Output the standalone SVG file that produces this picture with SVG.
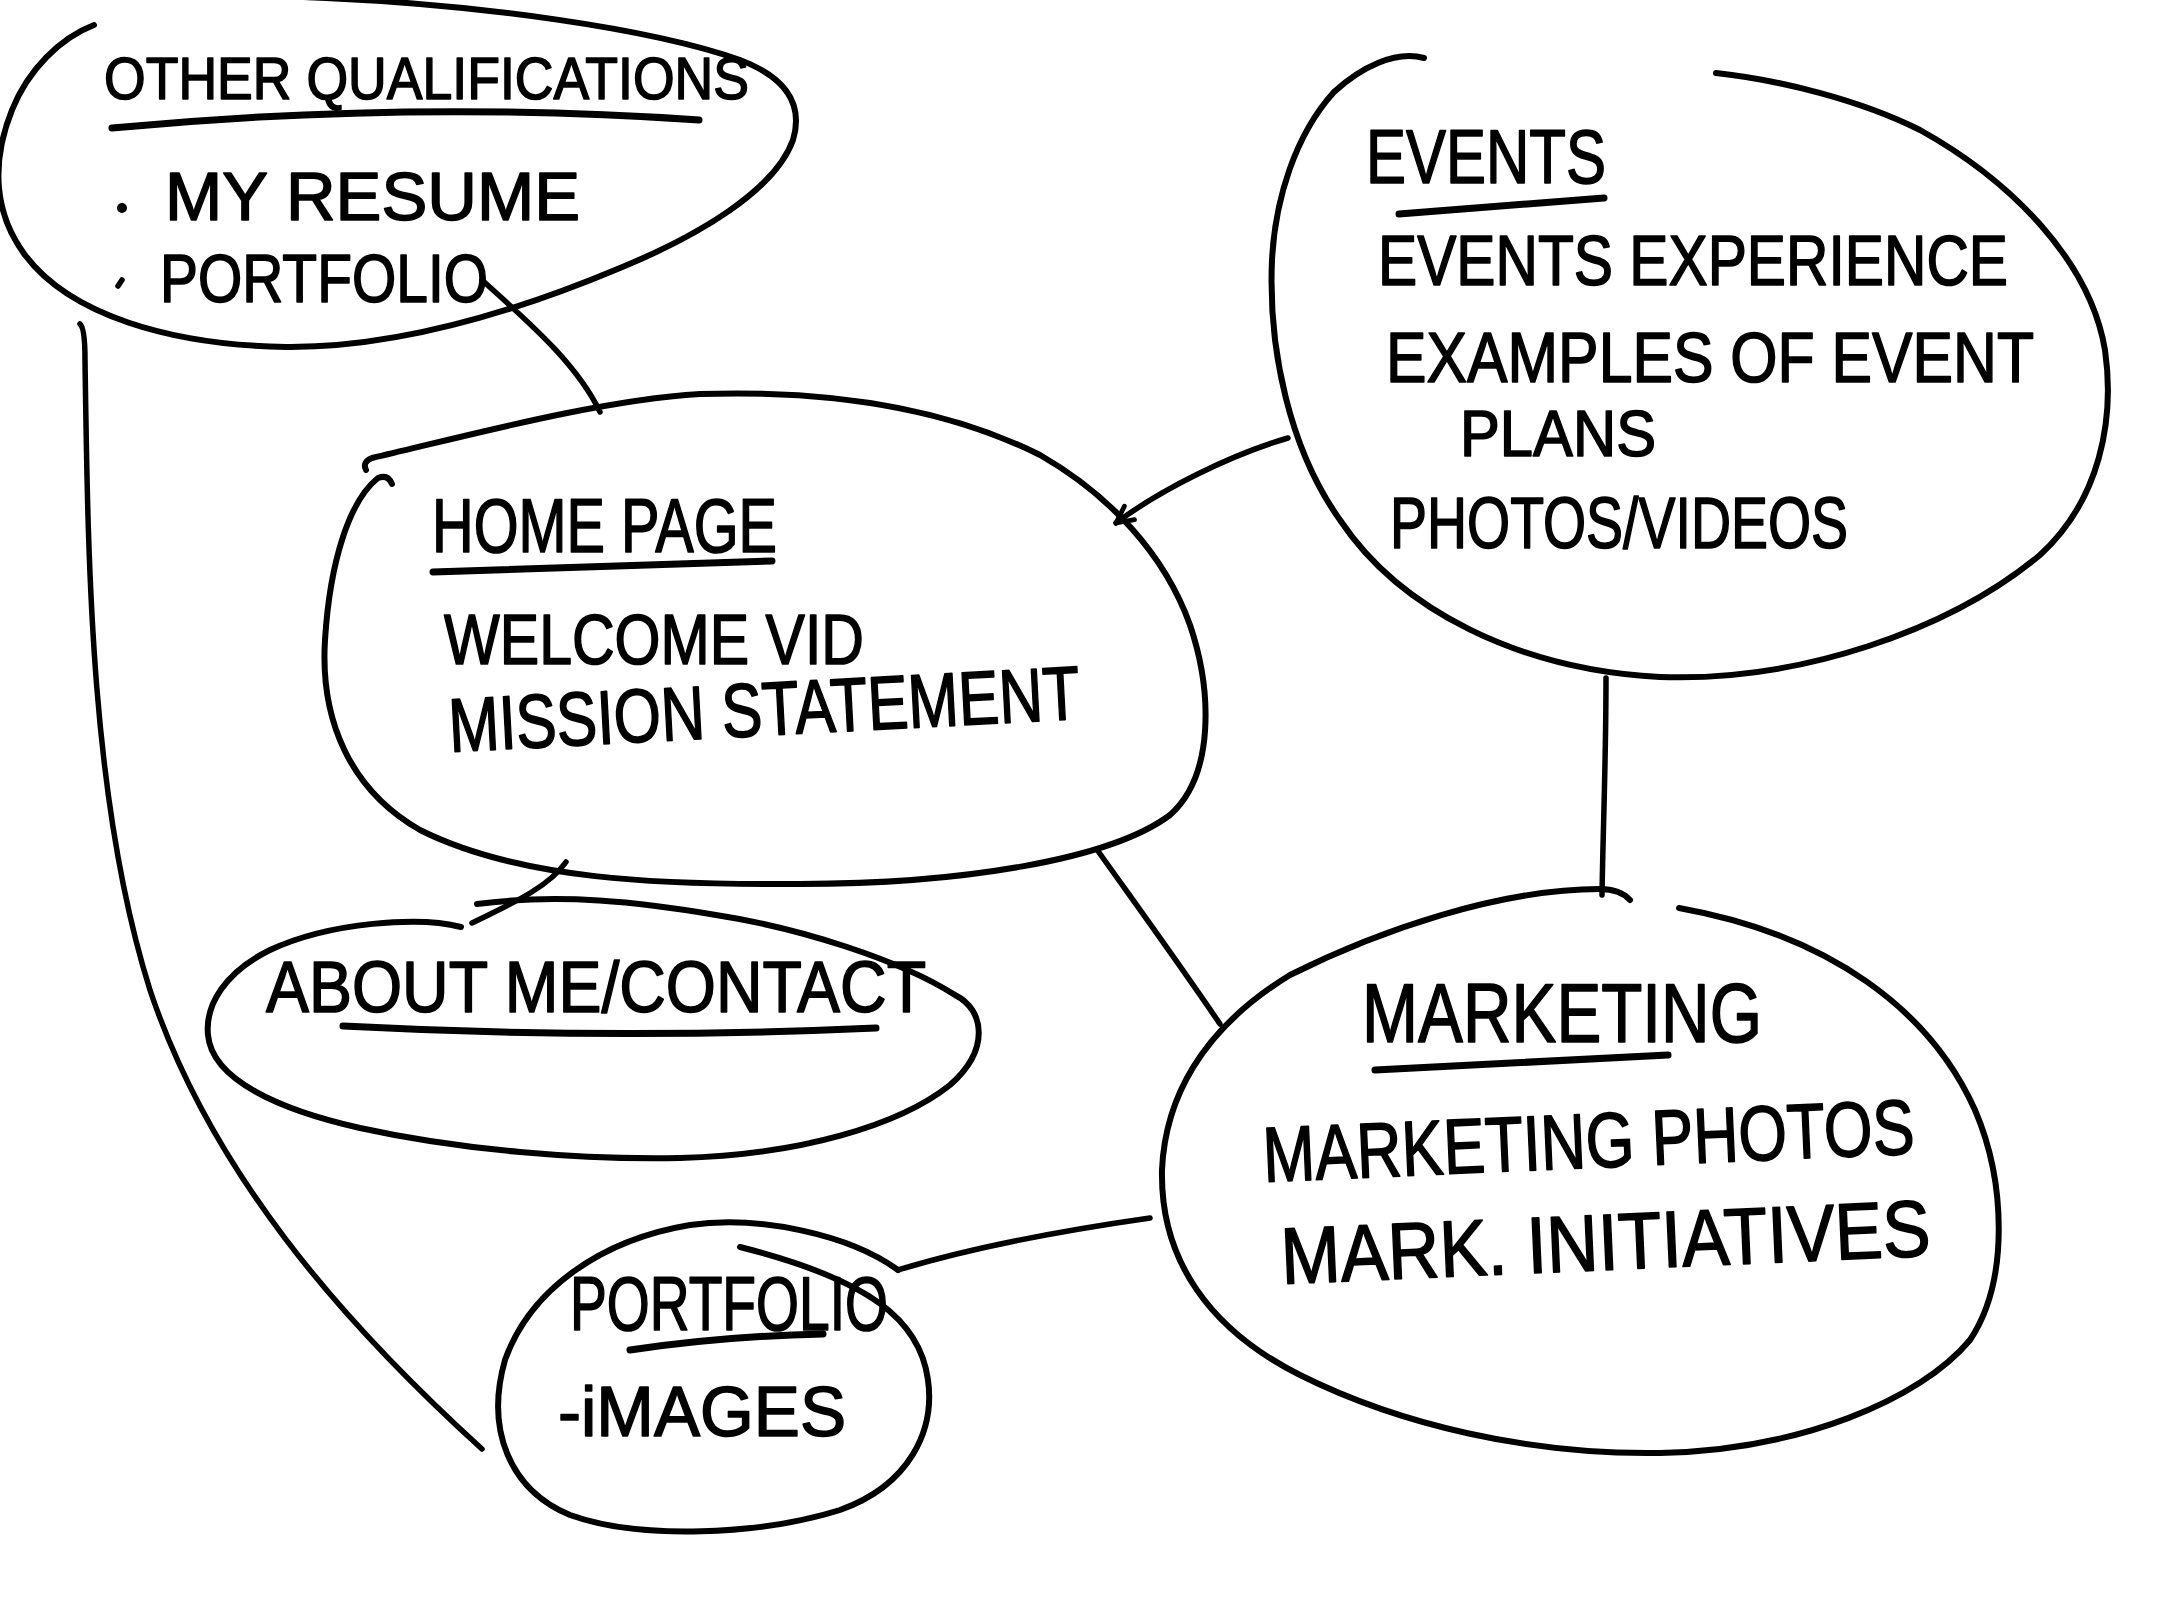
<svg xmlns="http://www.w3.org/2000/svg" width="2160" height="1620" viewBox="0 0 2160 1620">
<defs>
<style>
.ol{fill:none;stroke:#000;stroke-width:6;stroke-linecap:round;stroke-linejoin:round}
.cn{fill:none;stroke:#000;stroke-width:5.5;stroke-linecap:round;stroke-linejoin:round}
.ul{fill:none;stroke:#000;stroke-width:7;stroke-linecap:round}
.t{font-family:"Liberation Sans",Arial,sans-serif;fill:#000;stroke:#000;stroke-width:1.6;stroke-linejoin:round}
</style>
<marker id="arr" viewBox="0 0 20 20" refX="18" refY="10" markerWidth="24" markerHeight="24" markerUnits="userSpaceOnUse" orient="auto">
<path d="M4,3 L18,10 L4,17" fill="none" stroke="#000" stroke-width="4" stroke-linecap="round" stroke-linejoin="round"/>
</marker>
</defs>
<rect width="2160" height="1620" fill="#fff"/>

<g id="connectors">
<path class="cn" d="M482,280 C 520,315 575,360 600,412"/>
<path class="cn" d="M80,324 Q 85,328 85,360 C 88,560 90,800 150,990 C 210,1170 340,1320 482,1449"/>
<path class="cn" d="M1288,438 C 1230,455 1160,490 1116,523" marker-end="url(#arr)"/>
<path class="cn" d="M1606,678 C 1606,760 1603,830 1602,895"/>
<path class="cn" d="M1098,851 C 1140,910 1180,965 1220,1024"/>
<path class="cn" d="M566,862 C 550,885 520,900 472,923"/>
<path class="cn" d="M1150,1218 C 1080,1228 980,1245 898,1270"/>
</g>

<g id="other-qualifications">
<path class="ol" d="M94,25 C 60,38 28,70 12,110 C -10,165 -5,215 25,255 C 70,315 170,345 286,347 C 400,348 520,310 620,268 C 700,235 775,190 793,140 C 805,100 780,75 740,60 C 650,28 480,5 326,-2 C 300,-3 280,-4 260,-6"/>
<text class="t" x="104" y="99" font-size="60" textLength="645" lengthAdjust="spacingAndGlyphs">OTHER QUALIFICATIONS</text>
<path class="ul" d="M112,128 Q 405,100 699,120"/>
<circle cx="122" cy="208" r="5"/>
<text class="t" x="165" y="220" font-size="68" textLength="415" lengthAdjust="spacingAndGlyphs">MY RESUME</text>
<path class="cn" d="M118,286 L122,280"/>
<text class="t" x="160" y="302" font-size="68" textLength="328" lengthAdjust="spacingAndGlyphs">PORTFOLIO</text>
</g>

<g id="homepage">
<path class="ol" d="M392,484 Q 388,474 378,478 C 350,500 330,560 325,640 C 320,720 350,790 420,830 C 520,880 660,885 800,884 C 960,884 1110,860 1170,815 C 1215,775 1212,690 1190,625 C 1165,555 1110,495 1040,455 C 940,405 820,390 700,394 C 600,400 470,435 372,458 Q 362,462 366,470"/>
<text class="t" x="432" y="552" font-size="76" textLength="345" lengthAdjust="spacingAndGlyphs">HOME PAGE</text>
<path class="ul" d="M433,572 L772,561"/>
<text class="t" x="444" y="664" font-size="70" textLength="420" lengthAdjust="spacingAndGlyphs">WELCOME VID</text>
<text class="t" x="450" y="752" font-size="76" textLength="632" lengthAdjust="spacingAndGlyphs" transform="rotate(-3 450 752)">MISSION STATEMENT</text>
</g>

<g id="events">
<path class="ol" d="M1424,58 C 1395,50 1360,68 1334,92 C 1295,135 1275,200 1272,260 C 1268,350 1290,450 1340,520 C 1400,610 1520,670 1660,677 C 1800,682 1950,630 2040,555 C 2100,500 2115,420 2105,350 C 2090,260 2010,180 1920,130 C 1860,100 1780,80 1716,73"/>
<text class="t" x="1366" y="183" font-size="76" textLength="240" lengthAdjust="spacingAndGlyphs">EVENTS</text>
<path class="ul" d="M1399,214 L1604,198"/>
<text class="t" x="1378" y="285" font-size="70" textLength="630" lengthAdjust="spacingAndGlyphs">EVENTS EXPERIENCE</text>
<text class="t" x="1386" y="382" font-size="70" textLength="648" lengthAdjust="spacingAndGlyphs">EXAMPLES OF EVENT</text>
<text class="t" x="1460" y="456" font-size="64" textLength="196" lengthAdjust="spacingAndGlyphs">PLANS</text>
<text class="t" x="1390" y="548" font-size="73" textLength="458" lengthAdjust="spacingAndGlyphs">PHOTOS/VIDEOS</text>
</g>

<g id="about-me-contact">
<path class="ol" d="M461,927 C 420,916 330,922 270,950 C 225,972 205,1005 208,1035 C 212,1080 280,1110 360,1128 C 460,1150 580,1160 680,1158 C 800,1155 900,1125 950,1085 C 990,1050 985,1010 955,995 C 900,960 800,928 716,915 C 640,902 560,893 477,904"/>
<text class="t" x="266" y="1012" font-size="73" textLength="660" lengthAdjust="spacingAndGlyphs">ABOUT ME/CONTACT</text>
<path class="ul" d="M343,1026 Q 610,1040 876,1028"/>
</g>

<g id="marketing">
<path class="ol" d="M1630,900 Q 1620,889 1600,889 C 1500,889 1380,930 1290,975 C 1200,1030 1165,1100 1162,1170 C 1160,1260 1210,1330 1300,1375 C 1400,1425 1530,1455 1660,1453 C 1800,1450 1920,1400 1970,1340 C 2010,1280 2005,1180 1975,1110 C 1930,1010 1830,935 1679,908"/>
<text class="t" x="1362" y="1042" font-size="84" textLength="400" lengthAdjust="spacingAndGlyphs">MARKETING</text>
<path class="ul" d="M1375,1070 L1668,1055"/>
<text class="t" x="1264" y="1182" font-size="78" textLength="652" lengthAdjust="spacingAndGlyphs" transform="rotate(-2.5 1264 1182)">MARKETING PHOTOS</text>
<text class="t" x="1282" y="1284" font-size="80" textLength="650" lengthAdjust="spacingAndGlyphs" transform="rotate(-2.5 1282 1284)">MARK. INITIATIVES</text>
</g>

<g id="portfolio">
<path class="ol" d="M898,1270 C 850,1235 760,1215 690,1225 C 600,1240 530,1290 505,1360 C 485,1430 510,1490 570,1515 C 640,1540 760,1535 840,1510 C 910,1485 935,1430 928,1380 C 920,1320 870,1280 740,1247"/>
<text class="t" x="570" y="1330" font-size="76" textLength="318" lengthAdjust="spacingAndGlyphs">PORTFOLIO</text>
<path class="ul" d="M630,1350 Q 725,1336 823,1334"/>
<text class="t" x="558" y="1436" font-size="70" textLength="288" lengthAdjust="spacingAndGlyphs">-iMAGES</text>
</g>
</svg>
